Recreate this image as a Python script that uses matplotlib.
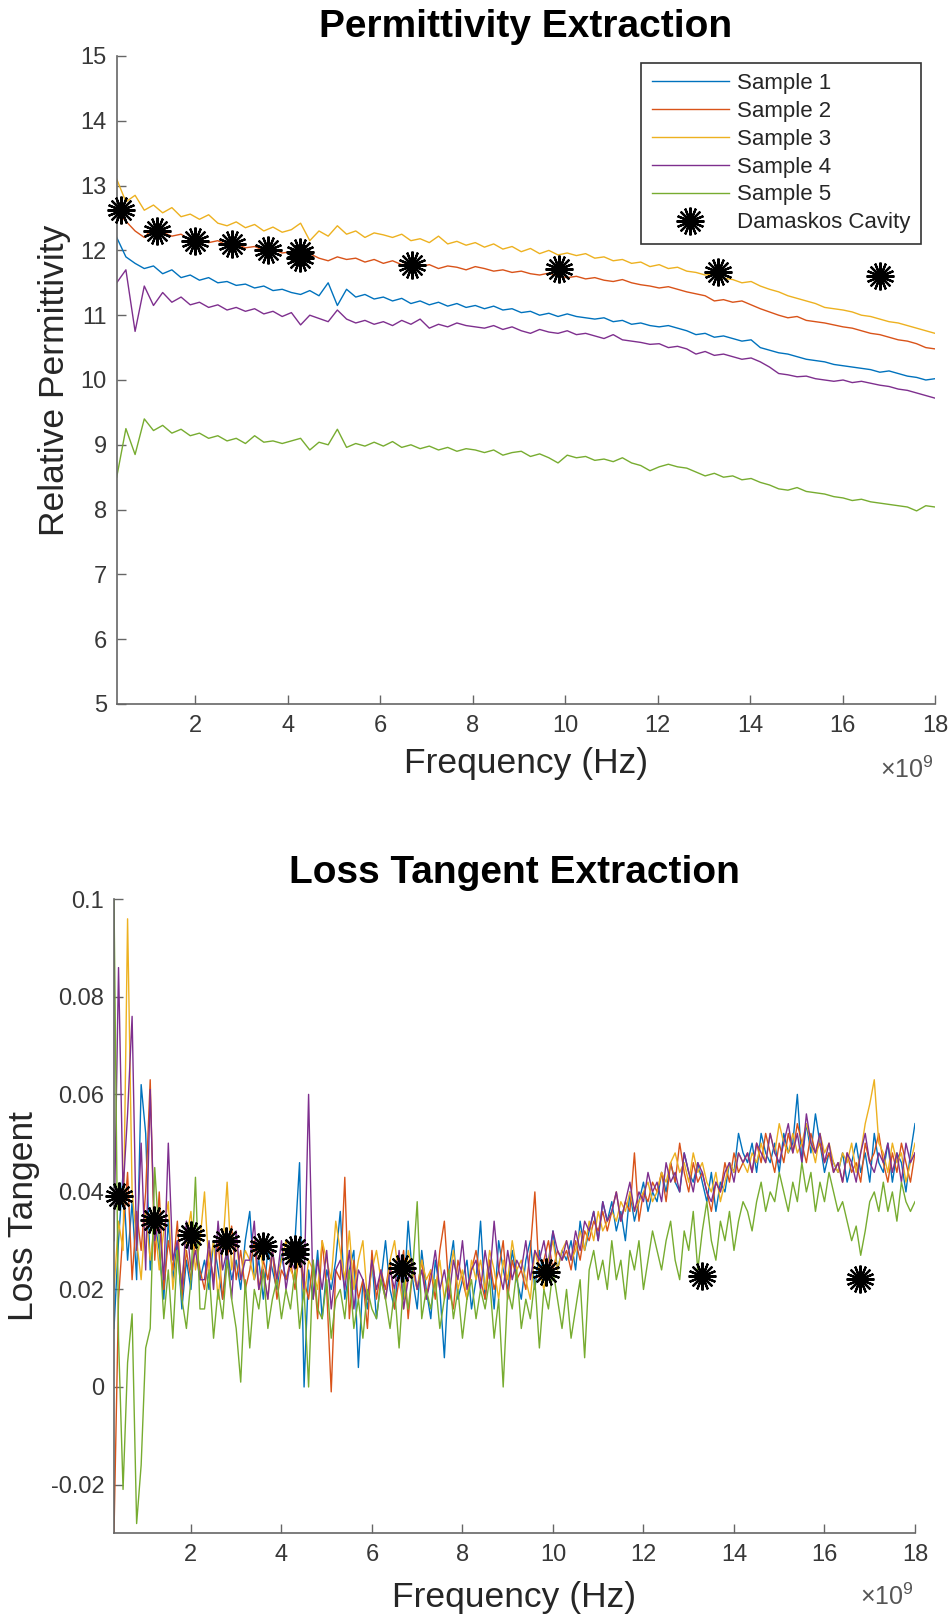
import numpy as np
import matplotlib.pyplot as plt
from matplotlib.ticker import FuncFormatter

plt.rcParams['font.family'] = ['Liberation Sans', 'DejaVu Sans']
plt.rcParams['axes.unicode_minus'] = False
plt.rcParams['mathtext.fontset'] = 'custom'
plt.rcParams['mathtext.rm'] = 'Liberation Sans'

labels = ['Sample 1', 'Sample 2', 'Sample 3', 'Sample 4', 'Sample 5']
colors = ['#0072BD', '#D95319', '#EDB120', '#7E2F8E', '#77AC30']

# measurement sweeps (Hz)
freq_eps = np.linspace(0.3e9, 18e9, 90)
freq_tan = np.linspace(0.3e9, 18e9, 178)

# relative permittivity per sample
eps_s1 = [12.20, 11.90, 11.80, 11.72, 11.76, 11.64, 11.70, 11.58, 11.62, 11.54,
          11.58, 11.50, 11.52, 11.46, 11.48, 11.42, 11.45, 11.38, 11.40, 11.35,
          11.32, 11.38, 11.30, 11.50, 11.15, 11.40, 11.28, 11.32, 11.25, 11.28,
          11.22, 11.26, 11.18, 11.22, 11.16, 11.20, 11.14, 11.18, 11.12, 11.15,
          11.10, 11.14, 11.08, 11.10, 11.04, 11.06, 11.00, 11.03, 10.98, 11.02,
          10.98, 10.96, 10.94, 10.96, 10.90, 10.92, 10.86, 10.88, 10.84, 10.82,
          10.84, 10.80, 10.76, 10.70, 10.72, 10.66, 10.68, 10.64, 10.60, 10.62,
          10.50, 10.46, 10.42, 10.40, 10.36, 10.32, 10.30, 10.28, 10.24, 10.22,
          10.20, 10.18, 10.16, 10.12, 10.14, 10.10, 10.06, 10.04, 10.00, 10.02]
eps_s2 = [12.60, 12.45, 12.30, 12.20, 12.35, 12.28, 12.22, 12.25, 12.16, 12.18,
          12.12, 12.15, 12.08, 12.10, 12.04, 12.06, 12.00, 12.02, 11.96, 11.98,
          11.92, 11.95, 11.88, 11.84, 11.90, 11.86, 11.88, 11.82, 11.86, 11.80,
          11.84, 11.78, 11.80, 11.75, 11.78, 11.72, 11.76, 11.74, 11.70, 11.75,
          11.72, 11.68, 11.70, 11.66, 11.68, 11.64, 11.62, 11.65, 11.60, 11.58,
          11.60, 11.56, 11.58, 11.54, 11.52, 11.55, 11.50, 11.47, 11.45, 11.42,
          11.44, 11.40, 11.36, 11.33, 11.30, 11.22, 11.24, 11.20, 11.22, 11.16,
          11.10, 11.05, 11.00, 10.96, 10.98, 10.92, 10.90, 10.88, 10.85, 10.82,
          10.80, 10.76, 10.72, 10.70, 10.66, 10.62, 10.60, 10.56, 10.50, 10.48]
eps_s3 = [13.10, 12.75, 12.85, 12.62, 12.70, 12.58, 12.66, 12.52, 12.56, 12.48,
          12.55, 12.42, 12.38, 12.44, 12.35, 12.40, 12.30, 12.36, 12.28, 12.32,
          12.42, 12.15, 12.30, 12.22, 12.38, 12.25, 12.30, 12.20, 12.27, 12.24,
          12.20, 12.25, 12.15, 12.18, 12.12, 12.22, 12.10, 12.14, 12.08, 12.12,
          12.05, 12.10, 12.02, 12.06, 11.98, 12.03, 11.95, 12.00, 11.93, 11.96,
          11.92, 11.95, 11.88, 11.90, 11.84, 11.86, 11.80, 11.82, 11.75, 11.78,
          11.72, 11.74, 11.68, 11.66, 11.62, 11.64, 11.57, 11.55, 11.50, 11.52,
          11.45, 11.40, 11.36, 11.30, 11.26, 11.22, 11.18, 11.12, 11.10, 11.08,
          11.05, 11.00, 10.98, 10.94, 10.90, 10.88, 10.84, 10.80, 10.76, 10.72]
eps_s4 = [11.50, 11.70, 10.75, 11.45, 11.15, 11.35, 11.20, 11.28, 11.16, 11.20,
          11.12, 11.16, 11.08, 11.12, 11.06, 11.10, 11.02, 11.06, 10.98, 11.04,
          10.85, 11.00, 10.95, 10.90, 11.08, 10.94, 10.88, 10.92, 10.86, 10.90,
          10.84, 10.92, 10.86, 10.94, 10.80, 10.86, 10.82, 10.88, 10.84, 10.82,
          10.80, 10.84, 10.78, 10.82, 10.76, 10.72, 10.78, 10.74, 10.72, 10.76,
          10.70, 10.72, 10.68, 10.64, 10.70, 10.62, 10.60, 10.58, 10.55, 10.56,
          10.50, 10.52, 10.48, 10.40, 10.44, 10.38, 10.40, 10.36, 10.32, 10.34,
          10.28, 10.20, 10.10, 10.08, 10.05, 10.06, 10.02, 10.00, 9.98, 10.00,
          9.96, 9.98, 9.95, 9.92, 9.90, 9.86, 9.84, 9.80, 9.76, 9.72]
eps_s5 = [8.50, 9.25, 8.85, 9.40, 9.22, 9.30, 9.18, 9.24, 9.14, 9.18,
          9.10, 9.14, 9.06, 9.10, 9.02, 9.14, 9.04, 9.06, 9.02, 9.06,
          9.10, 8.92, 9.04, 9.00, 9.24, 8.96, 9.02, 8.98, 9.04, 8.98,
          9.05, 8.96, 9.00, 8.94, 8.98, 8.92, 8.96, 8.90, 8.94, 8.92,
          8.88, 8.92, 8.84, 8.88, 8.90, 8.82, 8.86, 8.80, 8.72, 8.84,
          8.80, 8.82, 8.76, 8.78, 8.74, 8.80, 8.72, 8.68, 8.60, 8.66,
          8.70, 8.66, 8.64, 8.58, 8.52, 8.56, 8.50, 8.52, 8.46, 8.48,
          8.42, 8.38, 8.32, 8.30, 8.34, 8.28, 8.26, 8.24, 8.20, 8.18,
          8.14, 8.16, 8.12, 8.10, 8.08, 8.06, 8.04, 7.98, 8.06, 8.04]

# loss tangent per sample (x 1e-3)
tan_s1 = np.array([12, 30, 44, 26, 38, 22, 62, 52, 24, 34,
                   28, 18, 34, 22, 30, 16, 26, 20, 32, 22,
                   26, 20, 30, 24, 18, 28, 22, 26, 20, 30,
                   36, 22, 26, 18, 28, 24, 20, 27, 22, 25,
                   30, 46, 0, 24, 18, 28, 14, 24, 20, 26,
                   36, 18, 24, 28, 4, 22, 16, 26, 14, 22,
                   30, 20, 16, 26, 18, 34, 22, 16, 28, 20,
                   14, 26, 20, 6, 24, 30, 18, 22, 26, 16,
                   22, 34, 18, 26, 16, 30, 24, 20, 28, 22,
                   18, 26, 30, 20, 28, 22, 26, 32, 24, 28,
                   26, 30, 24, 34, 28, 32, 36, 30, 38, 34,
                   38, 32, 36, 30, 40, 34, 38, 42, 36, 40,
                   38, 44, 40, 46, 42, 40, 48, 44, 42, 46,
                   42, 38, 44, 36, 42, 40, 46, 44, 52, 48,
                   46, 50, 44, 52, 48, 46, 50, 44, 52, 48,
                   50, 60, 46, 54, 48, 56, 50, 44, 48, 46,
                   44, 48, 42, 46, 50, 44, 48, 42, 52, 46,
                   44, 50, 42, 48, 46, 40, 48, 54]) * 1e-3
tan_s2 = np.array([-30, 18, 32, 44, 22, 36, 28, 40, 63, 26,
                   40, 20, 30, 24, 34, 18, 28, 22, 30, 24,
                   20, 28, 22, 30, 18, 26, 33, 22, 28, 20,
                   24, 30, 20, 26, 22, 28, 18, 24, 22, 26,
                   20, 28, 22, 18, 26, 14, 30, 20, -1, 24,
                   22, 43, 14, 26, 18, 22, 12, 28, 18, 24,
                   20, 26, 16, 22, 28, 14, 24, 20, 26, 18,
                   24, 18, 28, 34, 20, 16, 26, 22, 18, 24,
                   28, 22, 18, 26, 20, 24, 30, 18, 26, 22,
                   24, 20, 28, 40, 22, 26, 30, 24, 28, 26,
                   28, 24, 30, 26, 32, 30, 34, 32, 36, 32,
                   36, 40, 34, 38, 36, 48, 34, 40, 38, 42,
                   40, 44, 38, 46, 42, 50, 44, 40, 46, 42,
                   44, 40, 36, 42, 40, 46, 42, 48, 44, 46,
                   48, 44, 50, 46, 52, 48, 44, 50, 46, 52,
                   48, 54, 50, 46, 52, 48, 50, 46, 48, 44,
                   46, 42, 48, 44, 46, 42, 50, 46, 48, 52,
                   46, 42, 48, 44, 50, 46, 42, 48]) * 1e-3
tan_s3 = np.array([20, 34, 28, 96, 40, 30, 22, 36, 26, 34,
                   24, 32, 38, 20, 28, 22, 30, 36, 24, 30,
                   40, 24, 30, 18, 28, 42, 24, 30, 22, 28,
                   26, 22, 30, 24, 18, 28, 22, 26, 30, 24,
                   22, 28, 18, 26, 24, 20, 30, 26, 22, 34,
                   28, 22, 32, 20, 26, 30, 18, 24, 28, 22,
                   18, 26, 30, 22, 16, 28, 24, 20, 26, 22,
                   24, 20, 26, 18, 22, 28, 20, 24, 18, 26,
                   22, 26, 20, 28, 24, 18, 26, 22, 30, 24,
                   26, 22, 18, 28, 24, 20, 26, 30, 24, 28,
                   30, 26, 28, 32, 28, 34, 30, 36, 32, 34,
                   36, 34, 38, 36, 40, 36, 38, 40, 42, 38,
                   40, 44, 42, 46, 48, 44, 46, 42, 48, 44,
                   46, 42, 40, 44, 38, 42, 46, 44, 48, 46,
                   44, 48, 46, 50, 46, 52, 48, 54, 50, 48,
                   52, 48, 50, 54, 50, 46, 52, 48, 50, 46,
                   44, 48, 46, 50, 44, 48, 54, 58, 63, 50,
                   48, 44, 50, 46, 48, 42, 46, 50]) * 1e-3
tan_s4 = np.array([30, 86, 40, 56, 76, 28, 50, 24, 61, 30,
                   34, 22, 50, 26, 30, 20, 34, 24, 28, 22,
                   22, 30, 20, 34, 24, 28, 18, 32, 22, 26,
                   26, 34, 20, 24, 18, 28, 22, 30, 20, 26,
                   24, 28, 20, 60, 18, 26, 20, 28, 16, 24,
                   26, 20, 28, 16, 24, 22, 18, 26, 20, 24,
                   18, 24, 20, 28, 16, 22, 26, 20, 24, 18,
                   22, 28, 20, 24, 18, 26, 22, 30, 20, 24,
                   26, 20, 28, 22, 34, 24, 20, 28, 22, 26,
                   24, 30, 22, 28, 26, 30, 24, 32, 28, 26,
                   30, 26, 32, 28, 34, 32, 36, 30, 38, 34,
                   36, 40, 34, 38, 42, 36, 40, 38, 44, 40,
                   42, 38, 46, 42, 44, 40, 48, 44, 40, 46,
                   44, 40, 38, 42, 40, 44, 46, 42, 48, 46,
                   48, 44, 50, 48, 46, 52, 48, 46, 50, 54,
                   48, 52, 46, 56, 50, 48, 52, 46, 50, 44,
                   46, 42, 48, 46, 42, 48, 52, 46, 44, 48,
                   46, 50, 44, 48, 42, 50, 46, 48]) * 1e-3
tan_s5 = np.array([100, 10, -21, 5, 15, -28, -16, 8, 12, 45,
                   30, 14, 24, 10, 28, 18, 12, 22, 43, 16,
                   16, 24, 10, 20, 14, 26, 18, 12, 1, 22,
                   8, 20, 16, 24, 12, 18, 22, 14, 20, 16,
                   24, 12, 20, 0, 26, 16, 14, 22, 10, 18,
                   20, 14, 24, 12, 18, 10, 20, 16, 14, 22,
                   18, 12, 20, 8, 22, 16, 24, 38, 14, 20,
                   16, 22, 12, 18, 24, 14, 20, 10, 18, 22,
                   14, 20, 16, 22, 10, 18, 0, 20, 16, 24,
                   12, 18, 14, 22, 8, 20, 16, 24, 18, 12,
                   20, 10, 16, 22, 6, 24, 28, 22, 26, 20,
                   30, 22, 26, 18, 28, 24, 30, 20, 26, 32,
                   28, 24, 30, 34, 26, 22, 32, 28, 36, 24,
                   32, 38, 30, 26, 34, 30, 36, 28, 34, 38,
                   36, 32, 38, 42, 36, 40, 38, 44, 40, 36,
                   42, 38, 46, 40, 44, 36, 42, 38, 44, 40,
                   36, 38, 34, 30, 33, 27, 32, 38, 40, 36,
                   42, 36, 40, 34, 42, 38, 36, 38]) * 1e-3

# Damaskos cavity reference points
cav_freq_eps = np.array([0.40, 1.18, 2.00, 2.79, 3.58, 4.27, 4.27, 6.69, 9.86, 13.31, 16.82]) * 1e9
cav_eps = [12.63, 12.30, 12.15, 12.10, 12.01, 11.97, 11.88, 11.78, 11.72, 11.66, 11.60]
cav_freq_tan = np.array([0.42, 1.18, 2.00, 2.77, 3.60, 4.30, 4.30, 6.67, 9.85, 13.29, 16.79]) * 1e9
cav_tan = [0.0391, 0.0342, 0.0311, 0.0300, 0.0289, 0.0282, 0.0273, 0.0243, 0.0235, 0.0227, 0.0222]

W, H = 953, 1618
axis_gray = '#666666'
text_gray = '#383838'


def style_axes(ax):
    for s in ['top', 'right']:
        ax.spines[s].set_visible(False)
    for s in ['left', 'bottom']:
        ax.spines[s].set_color(axis_gray)
        ax.spines[s].set_linewidth(1.2)
    ax.tick_params(direction='in', length=6.5, width=1.0, color=axis_gray,
                   labelcolor=text_gray, labelsize=17, top=False, right=False)
    ax.tick_params(axis='y', pad=7)
    ax.tick_params(axis='x', pad=8)
    ax.set_xlim(0.3e9, 18e9)
    ax.set_xticks(np.arange(2, 19, 2) * 1e9)
    ax.xaxis.set_major_formatter(FuncFormatter(lambda v, pos: '%g' % (v / 1e9)))


def draw_panel(ax, freq, series, cav_f, cav_v):
    for vals, c, lab in zip(series, colors, labels):
        ax.plot(freq, vals, color=c, lw=1.0, label=lab)
    ax.plot(cav_f, cav_v, linestyle='none', marker=(16, 2, 0), ms=20, mew=1.6,
            color='k', label='Damaskos Cavity', clip_on=False, zorder=5)
    style_axes(ax)


fig = plt.figure(figsize=(W / 100, H / 100), dpi=100)

# permittivity
ax1 = fig.add_axes([116.7 / W, 1 - 704 / H, 818.3 / W, 648 / H])
draw_panel(ax1, freq_eps, [eps_s1, eps_s2, eps_s3, eps_s4, eps_s5], cav_freq_eps, cav_eps)
ax1.set_ylim(5, 15)
ax1.set_yticks(np.arange(5, 16, 1))
leg = ax1.legend(loc='upper right', bbox_to_anchor=(0.9825, 0.9897), fontsize=16,
                 frameon=True, fancybox=False, edgecolor='#333333', framealpha=1,
                 handlelength=3.5, handletextpad=0.35, labelspacing=0.31,
                 borderpad=0.46, borderaxespad=0, numpoints=1)
leg.get_frame().set_linewidth(1.2)
for t in leg.get_texts():
    t.set_color('#262626')

fig.text(526 / W, 1 - 27 / H, 'Permittivity Extraction', ha='center', va='center',
         fontsize=28, fontweight='bold')
fig.text(55 / W, 1 - 380 / H, 'Relative Permittivity', rotation=90, ha='center',
         va='center', fontsize=25.5, color='#262626')
fig.text(526 / W, 1 - 764 / H, 'Frequency (Hz)', ha='center', va='center',
         fontsize=25.5, color='#262626')
fig.text(934 / W, 1 - 770 / H, r'$\times10^{9}$', ha='right', va='center',
         fontsize=18, color='#555555')

# loss tangent
ax2 = fig.add_axes([114 / W, 1 - 1533.3 / H, 801 / W, 634 / H])
draw_panel(ax2, freq_tan, [tan_s1, tan_s2, tan_s3, tan_s4, tan_s5], cav_freq_tan, cav_tan)
ax2.set_ylim(-0.03, 0.1)
ax2.set_yticks([-0.02, 0, 0.02, 0.04, 0.06, 0.08, 0.1])
ax2.yaxis.set_major_formatter(FuncFormatter(lambda v, pos: '%g' % round(v, 3)))

fig.text(514.5 / W, 1 - 873 / H, 'Loss Tangent Extraction', ha='center', va='center',
         fontsize=28, fontweight='bold')
fig.text(24 / W, 1 - 1216 / H, 'Loss Tangent', rotation=90, ha='center',
         va='center', fontsize=25.5, color='#262626')
fig.text(514.5 / W, 1 - 1597 / H, 'Frequency (Hz)', ha='center', va='center',
         fontsize=25.5, color='#262626')
fig.text(914 / W, 1 - 1597 / H, r'$\times10^{9}$', ha='right', va='center',
         fontsize=18, color='#555555')

fig.savefig('out.png', dpi=100)
